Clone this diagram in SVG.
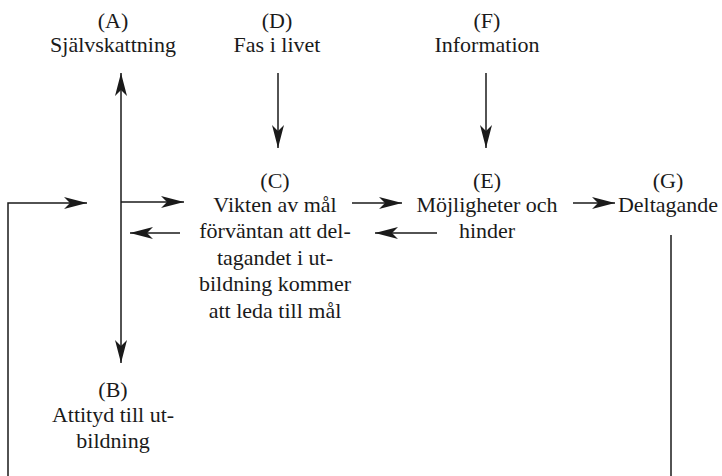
<svg xmlns="http://www.w3.org/2000/svg" width="722" height="476" viewBox="0 0 722 476">
<style>
.c{fill:none;stroke:#1a1a1a;stroke-width:1.5}
.a{marker-end:url(#ah)}
</style>
<defs>
<marker id="ah" markerUnits="userSpaceOnUse" viewBox="-24 -7 25 14" markerWidth="25" markerHeight="14" refX="0" refY="0" orient="auto-start-reverse">
<path d="M0,0 L-23,-6 L-17,0 L-23,6 Z" fill="#1a1a1a"/>
</marker>
</defs>
<g font-size="22" fill="#1a1a1a" text-anchor="middle">
<g id="A"><text x="113" y="28" font-family="Liberation Serif, serif">(A)</text><text x="113" y="52" font-family="Liberation Serif, serif">Självskattning</text></g>
<g id="D"><text x="277" y="28" font-family="Liberation Serif, serif">(D)</text><text x="277" y="52" font-family="Liberation Serif, serif">Fas i livet</text></g>
<g id="F"><text x="487" y="28" font-family="Liberation Serif, serif">(F)</text><text x="487" y="52" font-family="Liberation Serif, serif">Information</text></g>
<g id="C"><text x="275" y="188" font-family="Liberation Serif, serif">(C)</text><text x="275" y="212" font-family="Liberation Serif, serif">Vikten av mål</text><text x="275" y="238" font-family="Liberation Serif, serif">förväntan att del-</text><text x="275" y="265" font-family="Liberation Serif, serif">tagandet i ut-</text><text x="275" y="291" font-family="Liberation Serif, serif">bildning kommer</text><text x="275" y="318" font-family="Liberation Serif, serif">att leda till mål</text></g>
<g id="E"><text x="487" y="188" font-family="Liberation Serif, serif">(E)</text><text x="487" y="212" font-family="Liberation Serif, serif">Möjligheter och</text><text x="487" y="238" font-family="Liberation Serif, serif">hinder</text></g>
<g id="G"><text x="668" y="188" font-family="Liberation Serif, serif">(G)</text><text x="668" y="212" font-family="Liberation Serif, serif">Deltagande</text></g>
<g id="B"><text x="113" y="397" font-family="Liberation Serif, serif">(B)</text><text x="113" y="422" font-family="Liberation Serif, serif">Attityd till ut-</text><text x="113" y="448" font-family="Liberation Serif, serif">bildning</text></g>
</g>
<g id="connectors">
<path class="c a" d="M121,73 L121,363" marker-start="url(#ah)"/>
<path class="c a" d="M278,73 L278,148"/>
<path class="c a" d="M486,73 L486,148"/>
<path class="c a" d="M121,202 L184,202"/>
<path class="c a" d="M180,233 L130,233"/>
<path class="c a" d="M352,203 L402,203"/>
<path class="c a" d="M437,233 L375,233"/>
<path class="c a" d="M573,203 L615,203"/>
<path class="c a" d="M8,477 L8,203 L87,203"/>
<path class="c" d="M671,235 L671,477"/>
</g>
</svg>
